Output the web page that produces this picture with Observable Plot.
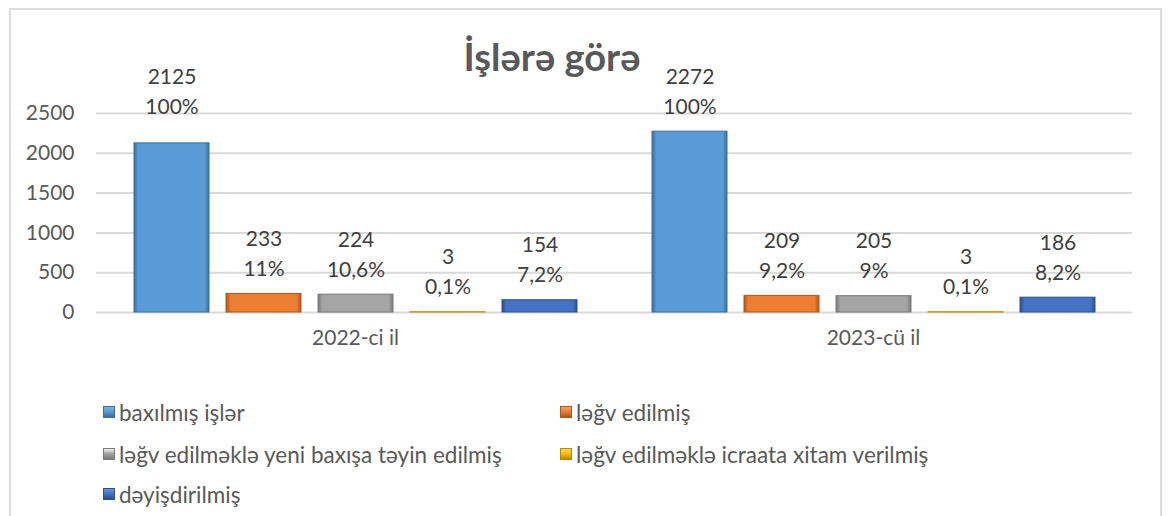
<!DOCTYPE html>
<html>
<head>
<meta charset="utf-8">
<script src="https://cdn.jsdelivr.net/npm/d3@7"></script>
<script src="https://cdn.jsdelivr.net/npm/@observablehq/plot@0.6"></script>
<style>
  body { margin: 0; background: #fff; font-family: Lato, "Open Sans", sans-serif; }
  #frame { position: absolute; left: 9px; top: 8px; width: 1153px; height: 530px; border: 2px solid #dcdcdc; box-sizing: border-box; }
  #title { position: absolute; left: 0; top: 33px; width: 1104px; text-align: center; font: bold 38px Lato, sans-serif; color: #595959; }
  #chart { position: absolute; left: 0; top: 0; }
  .leg { position: absolute; font: 22.5px Lato, sans-serif; color: #595959; white-space: nowrap; display: flex; align-items: center; }
  .sw { width: 12px; height: 12px; margin-right: 4px; box-sizing: border-box; }
</style>
</head>
<body>
<svg width="0" height="0" style="position:absolute">
  <defs id="gdefs"></defs>
</svg>
<div id="frame"></div>
<div id="title">İşlərə görə</div>
<div id="chart"></div>
<div id="legend"></div>
<script>
const years = ["2022-ci il", "2023-cü il"];
const series = [
  "baxılmış işlər",
  "ləğv edilmiş",
  "ləğv edilməklə yeni baxışa təyin edilmiş",
  "ləğv edilməklə icraata xitam verilmiş",
  "dəyişdirilmiş"
];
const values2022 = [2125, 233, 224, 3, 154];
const values2023 = [2272, 209, 205, 3, 186];
const pct2022 = ["100%", "11%", "10,6%", "0,1%", "7,2%"];
const pct2023 = ["100%", "9,2%", "9%", "0,1%", "8,2%"];
const yTicks = [0, 500, 1000, 1500, 2000, 2500];

const baseColors = ["#5B9BD5", "#ED7D31", "#A5A5A5", "#FFC000", "#4472C4"];
const lightColors = ["#7DB4E6", "#F7A061", "#F2F2F2", "#FFD54F", "#6A93DA"];
const darkColors = ["#3E6E9C", "#A9581F", "#7A7A7A", "#B88A00", "#2E4F8C"];

// gradients
const defs = document.getElementById("gdefs");
let defsHtml = "";
baseColors.forEach((c, i) => {
  defsHtml += `<linearGradient id="gh${i}" x1="0" x2="1" y1="0" y2="0">
    <stop offset="0" stop-color="${darkColors[i]}"/>
    <stop offset="0.06" stop-color="${c}"/>
    <stop offset="0.94" stop-color="${c}"/>
    <stop offset="1" stop-color="${darkColors[i]}"/>
  </linearGradient>`;
});
defs.innerHTML = defsHtml;

const data = [];
years.forEach((yr, yi) => {
  const vals = yi === 0 ? values2022 : values2023;
  const pcts = yi === 0 ? pct2022 : pct2023;
  series.forEach((s, si) => {
    data.push({year: yr, series: s, idx: si, value: vals[si], pct: pcts[si]});
  });
});
// the total-series labels sit at a common height (the larger total)
const topTotal = d3.max(data.filter(d => d.idx === 0), d => d.value);
const labelData = data.map(d => ({...d, labelY: d.idx === 0 ? topTotal : d.value}));

const chart = Plot.plot({
  width: 1168,
  height: 360,
  marginLeft: 96,
  marginRight: 36,
  marginTop: 113,
  marginBottom: 48,
  style: {fontFamily: "Lato, sans-serif", fontSize: "21px", background: "transparent"},
  fx: {domain: years, padding: 0, label: null, axis: "bottom", tickSize: 0, tickPadding: 18},
  x: {domain: series, paddingInner: 0.19, paddingOuter: 0.395, axis: null},
  y: {domain: [0, 2500], ticks: yTicks, tickFormat: d => String(d), tickSize: 0, tickPadding: 22, label: null, axis: "left"},
  marks: [
    Plot.ruleY(yTicks, {stroke: "#d9d9d9", strokeWidth: 2}),
    Plot.barY(data, {
      fx: "year", x: "series", y: "value",
      fill: d => `url(#gh${d.idx})`,
      stroke: d => darkColors[d.idx], strokeWidth: 1
    }),
    Plot.text(labelData, {
      fx: "year", x: "series", y: "labelY",
      text: d => `${d.value}\n${d.pct}`,
      lineAnchor: "bottom", lineHeight: 1.43, dy: -18,
      fontSize: 21, fill: "#404040"
    })
  ]
});
chart.querySelectorAll("g[aria-label='y-axis tick label'], g[aria-label='fx-axis tick label']").forEach(g => g.setAttribute("fill", "#595959"));
document.getElementById("chart").appendChild(chart);

// legend
const legPos = [
  [103, 412], [560, 412],
  [103, 454], [560, 454],
  [103, 494]
];
const legend = document.getElementById("legend");
series.forEach((s, i) => {
  const el = document.createElement("div");
  el.className = "leg";
  el.style.left = legPos[i][0] + "px";
  el.style.top = (legPos[i][1] - 14) + "px";
  el.style.height = "28px";
  const sw = document.createElement("div");
  sw.className = "sw";
  sw.style.background = `linear-gradient(to bottom, ${lightColors[i]}, ${baseColors[i]} 45%, ${darkColors[i]})`;
  sw.style.border = `1px solid ${darkColors[i]}`;
  el.appendChild(sw);
  const t = document.createElement("span");
  t.textContent = s;
  el.appendChild(t);
  legend.appendChild(el);
});
</script>
</body>
</html>
